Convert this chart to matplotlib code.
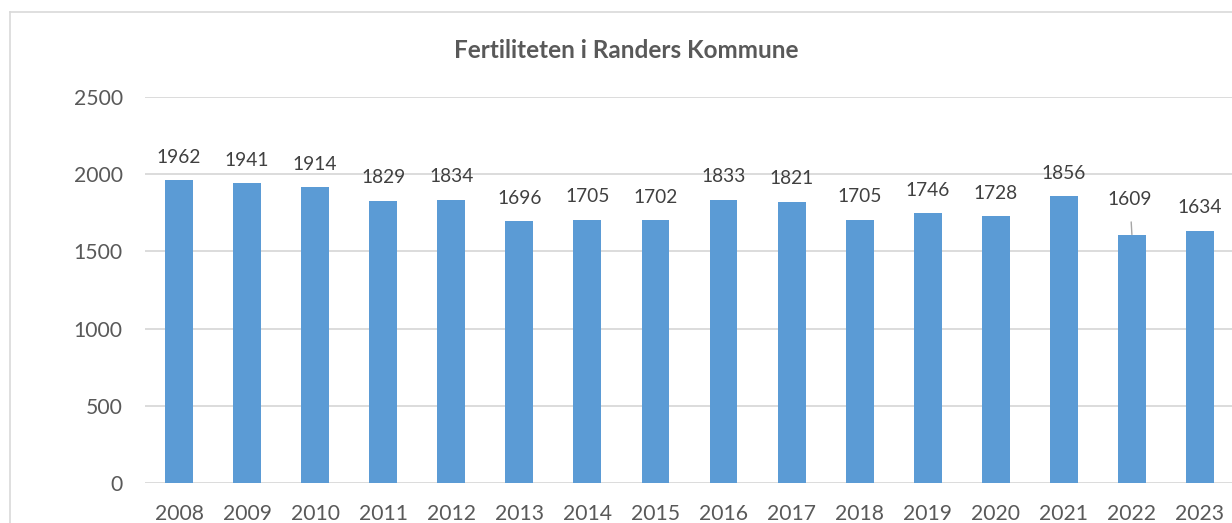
import matplotlib
matplotlib.use("Agg")
import matplotlib.pyplot as plt
from matplotlib.lines import Line2D

years = ["2008", "2009", "2010", "2011", "2012", "2013", "2014", "2015",
         "2016", "2017", "2018", "2019", "2020", "2021", "2022", "2023"]
births = [1962, 1941, 1914, 1829, 1834, 1696, 1705, 1702,
          1833, 1821, 1705, 1746, 1728, 1856, 1609, 1634]
title = "Fertiliteten i Randers Kommune"

plt.rcParams['font.family'] = ['Lato', 'DejaVu Sans']

W, H = 1232, 523
fig = plt.figure(figsize=(W / 100, H / 100), dpi=100)
fig.patch.set_facecolor("white")

# chart-area frame (cropped on right/bottom)
fig.add_artist(Line2D([9.5 / W, 9.5 / W], [0, 1 - 12 / H], transform=fig.transFigure,
                      color="#d9d9d9", lw=1.2))
fig.add_artist(Line2D([9.5 / W, 1.0], [1 - 12 / H, 1 - 12 / H], transform=fig.transFigure,
                      color="#d9d9d9", lw=1.2))

left, right = 145 / W, 1234 / W
bottom, top = 1 - 483 / H, 1 - 97 / H
ax = fig.add_axes([left, bottom, right - left, top - bottom])

x = list(range(len(years)))
ax.bar(x, births, width=0.41, color="#5B9BD5", zorder=3)
ax.set_xlim(-0.5, len(years) - 0.5)
ax.set_ylim(0, 2500)
ax.set_yticks([0, 500, 1000, 1500, 2000, 2500])
ax.set_xticks(x)
ax.set_xticklabels(years)

ax.grid(axis="y", color="#d9d9d9", lw=1.3, zorder=0)
for s in ax.spines.values():
    s.set_visible(False)
ax.tick_params(axis="both", length=0, labelsize=15.2, colors="#595959")
ax.tick_params(axis="x", pad=15)
ax.tick_params(axis="y", pad=16)

for i, v in enumerate(births):
    if years[i] == "2022":
        ax.annotate(str(v), xy=(i, v), xytext=(-2, 35), textcoords="offset pixels",
                    ha="center", va="center", fontsize=13.8, color="#404040",
                    arrowprops=dict(arrowstyle="-", color="#a6a6a6", lw=1,
                                    shrinkA=8, shrinkB=0))
    else:
        ax.annotate(str(v), xy=(i, v), xytext=(0, 23), textcoords="offset pixels",
                    ha="center", va="center", fontsize=13.8, color="#404040")

fig.text(626 / W, 1 - 50 / H, title, ha="center", va="center",
         fontsize=17.5, fontweight="bold", color="#595959")

fig.savefig("out.png", dpi=100, facecolor="white")
